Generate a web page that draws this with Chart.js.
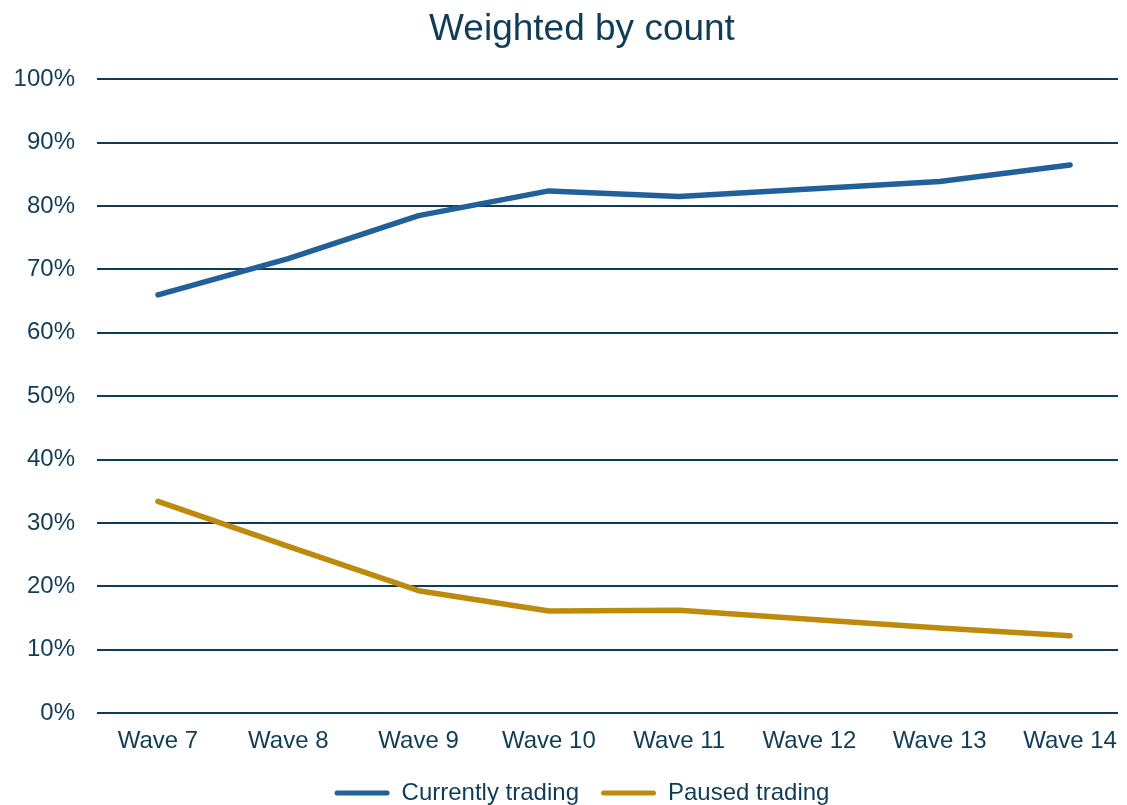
<!DOCTYPE html>
<html>
<head>
<meta charset="utf-8">
<title>Weighted by count</title>
<script src="https://cdn.jsdelivr.net/npm/chart.js@4.4.1/dist/chart.umd.min.js"></script>
<style>
  html, body { margin: 0; padding: 0; background: #ffffff; }
  #wrap { width: 1127px; height: 805px; position: relative; }
</style>
</head>
<body>
<div id="wrap"><canvas id="chart" width="1127" height="805"></canvas></div>
<script>
// Survey waves on the horizontal axis
const waves = ['Wave 7', 'Wave 8', 'Wave 9', 'Wave 10', 'Wave 11', 'Wave 12', 'Wave 13', 'Wave 14'];

// Share of businesses (%) by trading status, weighted by count
const currentlyTrading = [66.0, 71.7, 78.5, 82.4, 81.5, 82.7, 83.9, 86.5];
const pausedTrading    = [33.4, 26.3, 19.3, 16.1, 16.2, 14.8, 13.4, 12.2];

// Percent ticks on the vertical axis
const yTicks = [0, 10, 20, 30, 40, 50, 60, 70, 80, 90, 100];

const TEXT = '#0f3d57';
const BLUE = '#22609a';
const GOLD = '#be8a0c';
const FONT = "'Liberation Sans', Arial, sans-serif";

const toPoints = arr => arr.map((v, i) => ({ x: i, y: v }));

new Chart(document.getElementById('chart'), {
  type: 'line',
  data: {
    datasets: [
      {
        label: 'Currently trading',
        data: toPoints(currentlyTrading),
        borderColor: BLUE,
        backgroundColor: BLUE,
        borderWidth: 5.5,
        borderCapStyle: 'round',
        borderJoinStyle: 'round',
        pointRadius: 0,
        tension: 0
      },
      {
        label: 'Paused trading',
        data: toPoints(pausedTrading),
        borderColor: GOLD,
        backgroundColor: GOLD,
        borderWidth: 5.5,
        borderCapStyle: 'round',
        borderJoinStyle: 'round',
        pointRadius: 0,
        tension: 0
      }
    ]
  },
  options: {
    responsive: false,
    animation: false,
    layout: { padding: { left: 46, right: 9, top: 0, bottom: -10 } },
    plugins: {
      title: {
        display: true,
        text: 'Weighted by count',
        color: TEXT,
        font: { family: FONT, size: 37, weight: 'normal' },
        padding: { top: 8, bottom: 27 }
      },
      legend: {
        position: 'bottom',
        labels: {
          color: TEXT,
          font: { family: FONT, size: 24 },
          boxWidth: 55,
          boxHeight: 5,
          useBorderRadius: true,
          borderRadius: 2.5,
          padding: 22,
          generateLabels: chart => chart.data.datasets.map((ds, i) => ({
            text: ds.label,
            fillStyle: ds.borderColor,
            strokeStyle: ds.borderColor,
            lineWidth: 0,
            fontColor: TEXT,
            borderRadius: 2.5,
            datasetIndex: i
          }))
        }
      },
      tooltip: { enabled: false }
    },
    scales: {
      x: {
        type: 'linear',
        min: -0.468,
        max: 7.368,
        grid: { display: false, drawTicks: false },
        border: { display: false },
        afterBuildTicks: axis => { axis.ticks = waves.map((_, i) => ({ value: i })); },
        afterFit: axis => { axis.height = 46; axis.paddingLeft = 0; axis.paddingRight = 0; },
        ticks: {
          color: TEXT,
          font: { family: FONT, size: 24 },
          padding: 14,
          maxRotation: 0,
          autoSkip: false,
          callback: v => waves[v]
        }
      },
      y: {
        min: 0,
        max: 100,
        afterBuildTicks: axis => { axis.ticks = yTicks.map(v => ({ value: v })); },
        afterFit: axis => {
          axis.width = 51;
          // percent labels reach left of the narrow axis box; draw them unclipped
          axis._computeLabelArea = () => undefined;
        },
        grid: { color: TEXT, lineWidth: 2, drawTicks: false },
        border: { display: false },
        ticks: {
          color: TEXT,
          font: { family: FONT, size: 24 },
          padding: 22,
          callback: v => v + '%'
        }
      }
    }
  }
});
</script>
</body>
</html>
